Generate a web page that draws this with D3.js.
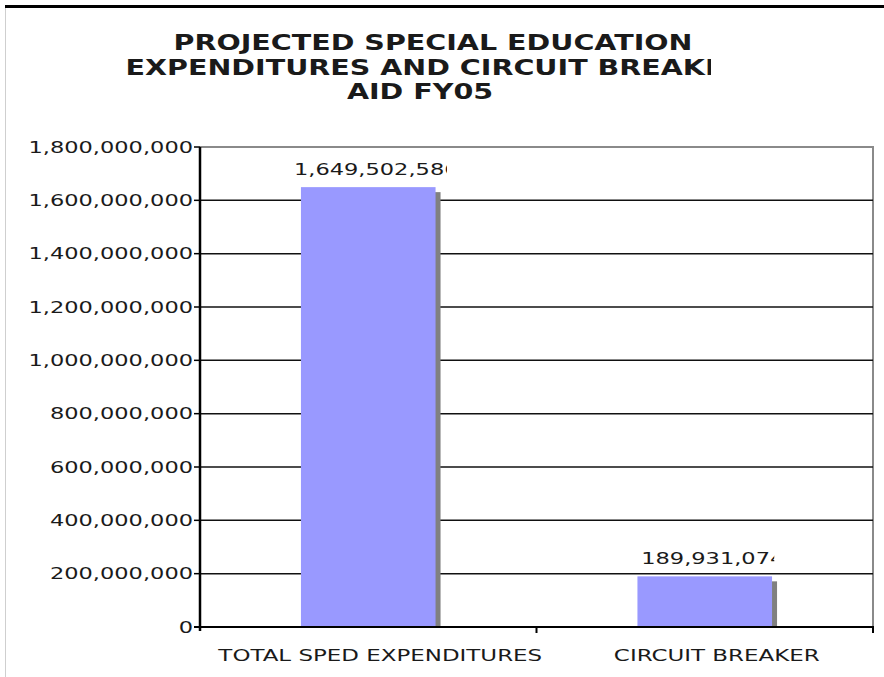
<!DOCTYPE html>
<html>
<head>
<meta charset="utf-8">
<script src="https://cdn.jsdelivr.net/npm/d3@7"></script>
<style>
  html, body { margin: 0; padding: 0; background: #ffffff; }
  svg { display: block; }
  text { font-family: "DejaVu Sans", Verdana, sans-serif; fill: #1a1a1a; }
</style>
</head>
<body>
<script>
// ---- data ----
const titleLines = ["PROJECTED SPECIAL EDUCATION", "EXPENDITURES AND CIRCUIT BREAKER", "AID FY05"];
const categories = ["TOTAL SPED EXPENDITURES", "CIRCUIT BREAKER"];
const values = [1649502586, 189931074];
const yTicks = [0, 200000000, 400000000, 600000000, 800000000, 1000000000, 1200000000, 1400000000, 1600000000, 1800000000];

// ---- layout ----
const W = 884, H = 677;
const plot = { left: 200, right: 873, top: 147, bottom: 627 };
const SX = 1.5;       // horizontal stretch of the original rendering
const SX_TITLE = 1.36;

const svg = d3.select("body").append("svg").attr("width", W).attr("height", H);
const defs = svg.append("defs");

// page frame
svg.append("line").attr("x1", 5).attr("x2", W).attr("y1", 6.5).attr("y2", 6.5)
  .attr("stroke", "#000").attr("stroke-width", 3);
svg.append("line").attr("x1", 5.5).attr("x2", 5.5).attr("y1", 8).attr("y2", H)
  .attr("stroke", "#cfcfcf").attr("stroke-width", 1);

const x = d3.scaleBand().domain(categories).range([plot.left, plot.right])
  .paddingInner(0.6).paddingOuter(0.3);
const xOuter = d3.scaleBand().domain(categories).range([plot.left, plot.right]);
const y = d3.scaleLinear().domain([0, 1800000000]).range([plot.bottom, plot.top]);
const fmt = d3.format(",");

function stretchedText(parent, px, py, str, anchor, size, weight, sx) {
  const g = parent.append("g").attr("transform", `translate(${px},${py}) scale(${sx || SX},1)`);
  const t = g.append("text").attr("x", 0).attr("y", 0)
    .attr("text-anchor", anchor).style("font-size", size + "px")
    .style("font-weight", weight || "normal").text(str);
  return t;
}

// ---- title ----
const titleG = svg.append("g");
defs.append("clipPath").attr("id", "titleClip").append("rect")
  .attr("x", 0).attr("y", 0).attr("width", 711).attr("height", 120);
const titleX = [433, 436, 420];
const titleY = [49.5, 74.5, 98.5];
titleLines.forEach((s, i) => {
  const g = titleG.append("g").attr("clip-path", "url(#titleClip)");
  stretchedText(g, titleX[i], titleY[i], s, "middle", 21, "bold", SX_TITLE);
});

// ---- plot frame (gray top/right border) ----
svg.append("line").attr("x1", plot.left).attr("x2", plot.right + 1)
  .attr("y1", plot.top).attr("y2", plot.top)
  .attr("stroke", "#8a8a8a").attr("stroke-width", 2);
svg.append("line").attr("x1", plot.right).attr("x2", plot.right)
  .attr("y1", plot.top).attr("y2", plot.bottom)
  .attr("stroke", "#8a8a8a").attr("stroke-width", 2);

// gridlines
svg.append("g").selectAll("line")
  .data(yTicks.filter(v => v > 0 && v < 1800000000))
  .join("line")
  .attr("x1", plot.left).attr("x2", plot.right)
  .attr("y1", d => y(d)).attr("y2", d => y(d))
  .attr("stroke", "#111").attr("stroke-width", 1.5);

// bars with shadow
const barG = svg.append("g");
barG.selectAll("rect.shadow").data(values).join("rect").attr("class", "shadow")
  .attr("x", (d, i) => x(categories[i]) + 5)
  .attr("y", d => y(d) + 5)
  .attr("width", x.bandwidth())
  .attr("height", d => plot.bottom - y(d) - 5)
  .attr("fill", "#808080");
barG.selectAll("rect.bar").data(values).join("rect").attr("class", "bar")
  .attr("x", (d, i) => x(categories[i]))
  .attr("y", d => y(d))
  .attr("width", x.bandwidth())
  .attr("height", d => plot.bottom - y(d))
  .attr("fill", "#9999ff");

// value labels (clipped like the original)
values.forEach((v, i) => {
  const cx = x(categories[i]) + x.bandwidth() / 2 + 8;
  const t = stretchedText(svg, cx, y(v) - 12, fmt(v), "middle", 15);
  const bb = t.node().getBBox();
  const id = "vclip" + i;
  defs.append("clipPath").attr("id", id).attr("clipPathUnits", "userSpaceOnUse")
    .append("rect").attr("x", bb.x).attr("y", bb.y - 2)
    .attr("width", bb.width * 0.93).attr("height", bb.height + 4);
  t.attr("clip-path", `url(#${id})`);
});

// y axis
svg.append("line").attr("x1", plot.left).attr("x2", plot.left)
  .attr("y1", plot.top).attr("y2", plot.bottom + 4)
  .attr("stroke", "#000").attr("stroke-width", 2.5);
const yTickG = svg.append("g");
yTicks.forEach(v => {
  yTickG.append("line").attr("x1", plot.left - 6).attr("x2", plot.left)
    .attr("y1", y(v)).attr("y2", y(v)).attr("stroke", "#000").attr("stroke-width", 1.5);
  stretchedText(yTickG, plot.left - 7, y(v) + 5.5, fmt(v), "end", 15);
});

// x axis
svg.append("line").attr("x1", plot.left - 6).attr("x2", plot.right + 1)
  .attr("y1", plot.bottom).attr("y2", plot.bottom)
  .attr("stroke", "#000").attr("stroke-width", 2);
const xTickPos = [xOuter(categories[1]), plot.right];
svg.append("g").selectAll("line").data(xTickPos).join("line")
  .attr("x1", d => d).attr("x2", d => d)
  .attr("y1", plot.bottom).attr("y2", plot.bottom + 6)
  .attr("stroke", "#000").attr("stroke-width", 2);
categories.forEach(c => {
  stretchedText(svg, xOuter(c) + xOuter.bandwidth() / 2 + 12, 661, c, "middle", 15, "normal", 1.53);
});
</script>
</body>
</html>
